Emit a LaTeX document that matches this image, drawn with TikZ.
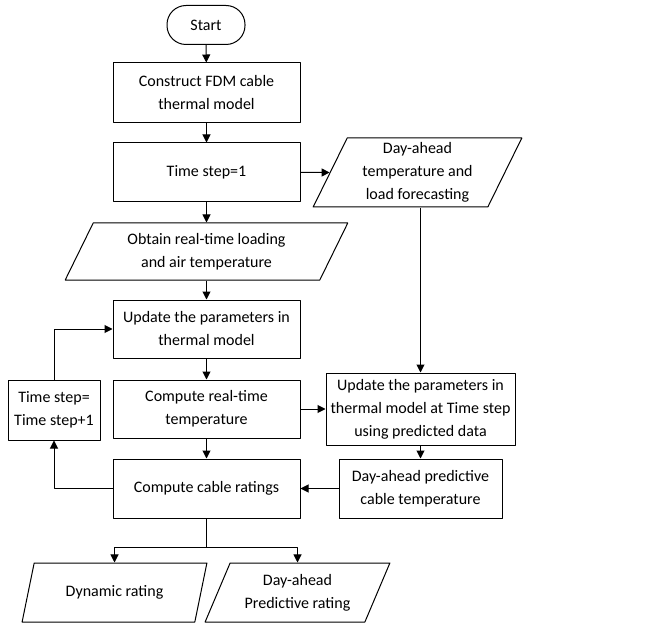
\documentclass[tikz,border=0pt]{standalone}
\usepackage{fontspec}
\setmainfont{Carlito}
\usetikzlibrary{shapes.geometric,arrows.meta}
\begin{document}
\begin{tikzpicture}[x=1pt,y=-1pt,line join=round,font=\fontsize{16}{23}\selectfont,
		box/.style={draw,line width=1pt,align=center,inner sep=0pt,minimum width=187pt,minimum height=59pt},
		io/.style={draw,line width=1pt,align=center,inner sep=0pt,trapezium,trapezium left angle=62,trapezium right angle=118,trapezium stretches=true,minimum height=59pt},
		flow/.style={-{Triangle[length=8pt,width=8pt]},line width=1pt}]
	\useasboundingbox (0,0) rectangle (662,623);
	% main column
	\node[draw,line width=1pt,rounded corners=19pt,minimum width=78pt,minimum height=39pt] (start) at (206,25) {Start};
	\node[box,minimum height=60pt] (fdm) at (206.5,93) {Construct FDM cable\\thermal model};
	\node[box] (ts1) at (206.5,172.5) {Time step=1};
	\node[io,minimum width=283pt,minimum height=57pt] (obt) at (206.5,251.5) {Obtain real-time loading\\and air temperature};
	\node[box,minimum height=58pt] (upd) at (206.5,329) {Update the parameters in\\thermal model};
	\node[box,minimum height=58pt] (crt) at (206.5,409) {Compute real-time\\temperature};
	\node[box] (ccr) at (206.5,488.5) {Compute cable ratings};
	\node[box,minimum width=92pt,minimum height=60pt] (tsinc) at (54,410) {Time step=\\Time step+1};
	% day-ahead column
	\node[io,trapezium left angle=66,trapezium right angle=114,minimum width=209pt,minimum height=69pt] (fcst) at (417.5,172.5) {Day-ahead\\temperature and\\load forecasting};
	\node[box,minimum width=189pt,minimum height=72pt] (upd2) at (420.5,409) {Update the parameters in\\thermal model at Time step\\using predicted data};
	\node[box,minimum width=163pt] (dap) at (420.5,488.5) {Day-ahead predictive\\cable temperature};
	% outputs
	\node[io,minimum width=185pt] (dyn) at (114.5,592.5) {Dynamic rating};
	\node[io,minimum width=185pt] (dapr) at (297.5,592.5) {Day-ahead\\Predictive rating};
	\coordinate (split) at (206.5,547);
	% connectors
	\draw[flow] (start) -- (fdm);
	\draw[flow] (fdm) -- (ts1);
	\draw[flow] (ts1) -- (obt);
	\draw[flow] (obt) -- (upd);
	\draw[flow] (upd) -- (crt);
	\draw[flow] (crt) -- (ccr);
	\draw[flow] (ts1) -- (fcst);
	\draw[flow] (fcst.south -| upd2.north) -- (upd2.north);
	\draw[flow] (crt) -- (upd2);
	\draw[flow] (upd2) -- (dap);
	\draw[flow] (dap) -- (ccr);
	\draw[flow] (ccr.west) -| (tsinc.south);
	\draw[flow] (tsinc.north) |- (upd.west);
	\draw[line width=1pt] (ccr.south) -- (split);
	\draw[flow] (split) -| (dyn.north);
	\draw[flow] (split) -| (dapr.north);
\end{tikzpicture}
\end{document}
